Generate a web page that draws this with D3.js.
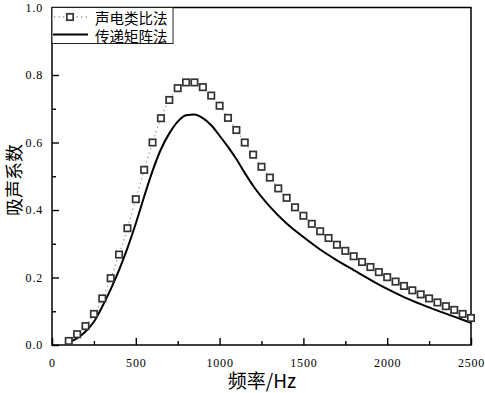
<!DOCTYPE html>
<html lang="zh">
	<head>
		<meta charset="utf-8">
		<title>吸声系数</title>
		<script type="text/javascript" src="https://cdn.jsdelivr.net/npm/d3@7"></script>
		<style type="text/css">
			body { margin: 0; background: #fff; }
			svg { display: block; }
			.cjk { font-family: "Noto Sans CJK SC", sans-serif; fill: #000; }
		</style>
	</head>
	<body>
		<script type="text/javascript">

			//Data
			let freqPts = [100, 150, 200, 250, 300, 350, 400, 450, 500, 550, 600, 650, 700, 750, 800, 850, 900, 950, 1000,
						   1050, 1100, 1150, 1200, 1250, 1300, 1350, 1400, 1450, 1500, 1550, 1600, 1650, 1700, 1750, 1800,
						   1850, 1900, 1950, 2000, 2050, 2100, 2150, 2200, 2250, 2300, 2350, 2400, 2450, 2500];
			let analogyVals = [0.012, 0.032, 0.056, 0.092, 0.138, 0.198, 0.268, 0.346, 0.432, 0.519, 0.600, 0.672, 0.726, 0.761, 0.778, 0.778, 0.764, 0.739, 0.709,
							   0.673, 0.637, 0.600, 0.564, 0.528, 0.496, 0.464, 0.436, 0.408, 0.383, 0.359, 0.337, 0.317, 0.297, 0.279, 0.263,
							   0.246, 0.231, 0.216, 0.201, 0.188, 0.175, 0.162, 0.150, 0.138, 0.126, 0.115, 0.104, 0.092, 0.080];

			let freqLine = [100, 150, 200, 250, 300, 350, 400, 450, 500, 550, 600, 650, 700, 750, 800, 850, 900, 950, 1000,
							1050, 1100, 1150, 1200, 1300, 1400, 1500, 1600, 1700, 1800, 1900, 2000, 2100, 2200, 2300, 2400, 2500];
			let matrixVals = [0.008, 0.020, 0.040, 0.069, 0.114, 0.165, 0.222, 0.287, 0.360, 0.440, 0.516, 0.580, 0.627, 0.662, 0.681, 0.683, 0.672, 0.651, 0.620,
							  0.587, 0.551, 0.510, 0.472, 0.410, 0.360, 0.320, 0.283, 0.251, 0.222, 0.193, 0.166, 0.142, 0.121, 0.102, 0.084, 0.066];

			let seriesNames = ["声电类比法", "传递矩阵法"];
			let xTicks = [0, 500, 1000, 1500, 2000, 2500];
			let yTicks = [0.0, 0.2, 0.4, 0.6, 0.8, 1.0];

			//Width and height
			let w = 485;
			let h = 393;
			let margin = {top: 7.5, right: 14, bottom: 48, left: 52};

			let x = d3.scaleLinear()
					  .domain([0, 2500])
					  .range([margin.left, w - margin.right]);
			let y = d3.scaleLinear()
					  .domain([0, 1])
					  .range([h - margin.bottom, margin.top]);

			let svg = d3.select("body")
						.append("svg")
						.attr("width", w)
						.attr("height", h);

			//Minor ticks first, inward
			svg.append("g")
			   .attr("transform", "translate(0," + y(0) + ")")
			   .call(d3.axisBottom(x).tickValues(d3.range(250, 2500, 500)).tickSize(-4).tickFormat(""))
			   .call(g => g.select(".domain").remove());
			svg.append("g")
			   .attr("transform", "translate(" + x(0) + ",0)")
			   .call(d3.axisLeft(y).tickValues(d3.range(0.1, 1, 0.2)).tickSize(-4).tickFormat(""))
			   .call(g => g.select(".domain").remove());

			//Major ticks
			let xAxis = svg.append("g")
						   .attr("transform", "translate(0," + y(0) + ")")
						   .call(d3.axisBottom(x).tickValues(xTicks).tickSize(-7).tickPadding(13).tickFormat(d3.format("d")));
			xAxis.select(".domain").remove();

			let yAxis = svg.append("g")
						   .attr("transform", "translate(" + x(0) + ",0)")
						   .call(d3.axisLeft(y).tickValues(yTicks).tickSize(-7).tickPadding(9).tickFormat(d3.format(".1f")));
			yAxis.select(".domain").remove();

			svg.selectAll(".tick line").attr("stroke", "#000").attr("stroke-width", 1.4);
			svg.selectAll(".tick text")
			   .attr("font-family", "'Liberation Serif', 'DejaVu Serif', serif")
			   .attr("font-size", 12)
			   .attr("letter-spacing", 0.8)
			   .attr("fill", "#000");

			//Frame
			svg.append("rect")
			   .attr("x", x(0))
			   .attr("y", y(1))
			   .attr("width", x(2500) - x(0))
			   .attr("height", y(0) - y(1))
			   .attr("fill", "none")
			   .attr("stroke", "#000")
			   .attr("stroke-width", 1.5);

			//Dotted guide through the squares
			let dotLine = d3.line()
							.x((d, i) => x(freqPts[i]))
							.y(d => y(d))
							.curve(d3.curveMonotoneX);
			svg.append("path")
			   .attr("d", dotLine(analogyVals))
			   .attr("fill", "none")
			   .attr("stroke", "#9a9a9a")
			   .attr("stroke-width", 1.3)
			   .attr("stroke-dasharray", "1.3,3.2");

			//Transfer matrix curve
			let solid = d3.line()
						  .x((d, i) => x(freqLine[i]))
						  .y(d => y(d))
						  .curve(d3.curveMonotoneX);
			svg.append("path")
			   .attr("d", solid(matrixVals))
			   .attr("fill", "none")
			   .attr("stroke", "#000")
			   .attr("stroke-width", 2);

			//Square markers
			svg.selectAll("rect.mk")
			   .data(analogyVals)
			   .enter()
			   .append("rect")
			   .attr("class", "mk")
			   .attr("x", (d, i) => x(freqPts[i]) - 3.2)
			   .attr("y", d => y(d) - 3.2)
			   .attr("width", 6.4)
			   .attr("height", 6.4)
			   .attr("fill", "#fff")
			   .attr("stroke", "#333")
			   .attr("stroke-width", 1.7);

			//Legend
			let lg = svg.append("g");
			lg.append("rect")
			  .attr("x", x(0))
			  .attr("y", y(1))
			  .attr("width", 121)
			  .attr("height", 36)
			  .attr("fill", "#fff")
			  .attr("stroke", "#222")
			  .attr("stroke-width", 1);
			lg.append("line")
			  .attr("x1", 54).attr("x2", 88)
			  .attr("y1", 17).attr("y2", 17)
			  .attr("stroke", "#9a9a9a")
			  .attr("stroke-width", 1.3)
			  .attr("stroke-dasharray", "1.3,3.2");
			lg.append("rect")
			  .attr("x", 70 - 3.2).attr("y", 17 - 3.2)
			  .attr("width", 6.4).attr("height", 6.4)
			  .attr("fill", "#fff")
			  .attr("stroke", "#333")
			  .attr("stroke-width", 1.7);
			lg.append("line")
			  .attr("x1", 53).attr("x2", 88)
			  .attr("y1", 34.5).attr("y2", 34.5)
			  .attr("stroke", "#000")
			  .attr("stroke-width", 2);
			lg.selectAll("text")
			  .data(seriesNames)
			  .enter()
			  .append("text")
			  .attr("class", "cjk")
			  .attr("x", 95)
			  .attr("y", (d, i) => 17.5 + i * 17.5)
			  .attr("dominant-baseline", "central")
			  .attr("font-size", 14.5)
			  .text(d => d);

			//Axis titles
			svg.append("text")
			   .attr("class", "cjk")
			   .attr("x", 262)
			   .attr("y", 388)
			   .attr("text-anchor", "middle")
			   .attr("font-size", 19)
			   .text("频率/Hz");
			svg.append("text")
			   .attr("class", "cjk")
			   .attr("transform", "translate(13,180) rotate(-90)")
			   .attr("text-anchor", "middle")
			   .attr("dominant-baseline", "central")
			   .attr("font-size", 18)
			   .text("吸声系数");

		</script>
	</body>
</html>
